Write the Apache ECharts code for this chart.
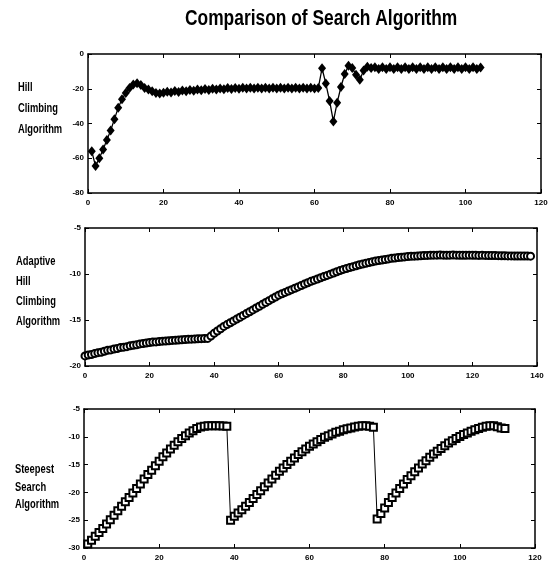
<!DOCTYPE html>
<html>
<head>
<meta charset="utf-8">
<script src="https://cdn.jsdelivr.net/npm/echarts@6/dist/echarts.min.js"></script>
<style>
  html, body { margin: 0; padding: 0; background: #fff; }
  #chart { width: 548px; height: 571px; }
</style>
</head>
<body>
<div id="chart"></div>
<script>
// Hill Climbing: iterations 1..104
const hillValues = [
  -56, -64.5, -60, -55, -49.5, -44, -37.5, -31, -26, -22.5,
  -19.5, -17.5, -16.8, -17.8, -19.5, -20.5, -21.5, -22.5, -22.8, -22.3,
  -21.7, -22.2, -21.3, -21.8, -21, -21.5, -20.7, -21.2, -20.4, -20.9,
  -20.2, -20.7, -20, -20.5, -19.8, -20.3, -19.6, -20.1, -19.5, -20,
  -19.4, -19.9, -19.4, -19.9, -19.4, -19.9, -19.4, -19.9, -19.4, -19.9,
  -19.4, -19.9, -19.4, -19.9, -19.4, -19.9, -19.4, -19.9, -19.4, -19.9,
  -19.6, -8.2, -17, -27, -38.8, -28, -19, -11.5, -6.8, -8,
  -12, -14.8, -9.5, -7.3, -8, -7.6, -8.6, -7.6, -8.6, -7.6,
  -8.6, -7.6, -8.6, -7.6, -8.6, -7.6, -8.6, -7.6, -8.6, -7.6,
  -8.6, -7.6, -8.6, -7.6, -8.6, -7.6, -8.6, -7.6, -8.6, -7.6,
  -8.6, -7.6, -8.6, -7.8
];

// Adaptive Hill Climbing: iterations 0..138
const adaptiveValues = [
  -18.9, -18.8, -18.75, -18.65, -18.55, -18.5, -18.4, -18.3, -18.25, -18.15,
  -18.1, -18, -17.95, -17.9, -17.8, -17.75, -17.7, -17.6, -17.55, -17.5,
  -17.45, -17.4, -17.38, -17.35, -17.3, -17.28, -17.25, -17.22, -17.2, -17.17,
  -17.15, -17.12, -17.1, -17.08, -17.06, -17.05, -17.03, -17.02, -17, -16.75,
  -16.45, -16.2, -15.95, -15.7, -15.5, -15.3, -15.1, -14.9, -14.7, -14.5,
  -14.3, -14.1, -13.9, -13.7, -13.5, -13.3, -13.1, -12.9, -12.7, -12.5,
  -12.3, -12.15, -12, -11.85, -11.7, -11.55, -11.4, -11.25, -11.1, -10.95,
  -10.8, -10.67, -10.54, -10.41, -10.28, -10.15, -10.02, -9.89, -9.76, -9.63,
  -9.5, -9.4, -9.3, -9.2, -9.1, -9, -8.92, -8.84, -8.76, -8.68,
  -8.6, -8.54, -8.48, -8.42, -8.36, -8.3, -8.26, -8.22, -8.18, -8.14,
  -8.1, -8.08, -8.06, -8.04, -8.02, -8, -7.98, -7.96, -7.95, -7.95,
  -7.94, -7.95, -7.96, -7.95, -7.94, -7.95, -7.96, -7.97, -7.96, -7.95,
  -7.96, -7.97, -7.98, -7.97, -7.98, -7.99, -8, -8, -8.01, -8.02,
  -8.02, -8.03, -8.03, -8.04, -8.04, -8.05, -8.05, -8.05, -8.06
];

// Steepest Search: iterations 1..112 (restarts after 38 and 77)
const steepestValues = [
  -29.3, -28.6, -27.9, -27.2, -26.5, -25.7, -24.9, -24.1, -23.3, -22.5,
  -21.7, -20.9, -20.1, -19.3, -18.5, -17.6, -16.8, -16, -15.2, -14.4,
  -13.6, -12.9, -12.2, -11.5, -10.9, -10.3, -9.8, -9.3, -8.9, -8.5,
  -8.25, -8.1, -8, -8, -8, -8, -8.05, -8.1,
  -25, -24.3, -23.7, -23.1, -22.5, -21.8, -21.1, -20.4, -19.7, -19,
  -18.3, -17.6, -16.9, -16.2, -15.6, -15, -14.4, -13.8, -13.2, -12.7,
  -12.2, -11.7, -11.3, -10.9, -10.5, -10.1, -9.8, -9.5, -9.2, -9,
  -8.75, -8.55, -8.4, -8.25, -8.1, -8, -8, -8.1, -8.3,
  -24.8, -23.8, -22.8, -21.8, -20.9, -20.1, -19.3, -18.5, -17.7, -17,
  -16.3, -15.6, -14.9, -14.3, -13.7, -13.1, -12.6, -12.1, -11.6, -11.1,
  -10.7, -10.3, -9.95, -9.6, -9.3, -9, -8.75, -8.5, -8.3, -8.1,
  -8, -8, -8.2, -8.4, -8.5
];

const hillXTicks = { min: 0, max: 120, interval: 20 };
const adaptiveXTicks = { min: 0, max: 140, interval: 20 };
const steepestXTicks = { min: 0, max: 120, interval: 20 };
const hillYTicks = { min: -80, max: 0, interval: 20 };
const adaptiveYTicks = { min: -20, max: -5, interval: 5 };
const steepestYTicks = { min: -30, max: -5, interval: 5 };

const hillData = hillValues.map((v, i) => [i + 1, v]);
const adaptiveData = adaptiveValues.map((v, i) => [i, v]);
const steepestData = steepestValues.map((v, i) => [i + 1, v]);

const labelFont = {
  color: '#000',
  fontSize: 8,
  fontWeight: 'bold',
  fontFamily: '"Liberation Sans", sans-serif',
};
const lineStyle = { color: '#000', width: 1.5 };
const tick = { show: true, inside: true, length: 4, lineStyle: { color: '#000' } };

function mainX(idx, ticks) {
  return {
    type: 'value', gridIndex: idx, position: 'bottom', ...ticks,
    axisLine: { show: true, onZero: false, lineStyle },
    axisTick: tick,
    axisLabel: { ...labelFont, margin: 6 },
    splitLine: { show: false },
  };
}
function boxX(idx, ticks) {
  return {
    type: 'value', gridIndex: idx, position: 'top', ...ticks,
    axisLine: { show: true, onZero: false, lineStyle },
    axisTick: tick,
    axisLabel: { show: false },
    splitLine: { show: false },
  };
}
function mainY(idx, ticks) {
  return {
    type: 'value', gridIndex: idx, position: 'left', ...ticks,
    axisLine: { show: true, onZero: false, lineStyle },
    axisTick: tick,
    axisLabel: { ...labelFont, margin: 4 },
    splitLine: { show: false },
  };
}
function boxY(idx, ticks) {
  return {
    type: 'value', gridIndex: idx, position: 'right', ...ticks,
    axisLine: { show: true, onZero: false, lineStyle },
    axisTick: tick,
    axisLabel: { show: false },
    splitLine: { show: false },
  };
}

// condensed bold text, squeezed horizontally to look like the narrow font in the scan
function sideLabel(lines, x, y, gap) {
  return lines.map((t, i) => ({
    type: 'text',
    x: x, y: y + i * gap,
    scaleX: 0.72,
    style: {
      text: t, fill: '#000',
      font: 'bold 13px "Liberation Sans", sans-serif',
    },
  }));
}

const chart = echarts.init(document.getElementById('chart'));
chart.setOption({
  animation: false,
  backgroundColor: '#fff',
  grid: [
    { left: 88, top: 54, width: 453, height: 139, outerBoundsMode: 'none' },
    { left: 85, top: 228, width: 452, height: 138, outerBoundsMode: 'none' },
    { left: 84, top: 409, width: 451, height: 139, outerBoundsMode: 'none' },
  ],
  xAxis: [
    mainX(0, hillXTicks), mainX(1, adaptiveXTicks), mainX(2, steepestXTicks),
    boxX(0, hillXTicks), boxX(1, adaptiveXTicks), boxX(2, steepestXTicks),
  ],
  yAxis: [
    mainY(0, hillYTicks), mainY(1, adaptiveYTicks), mainY(2, steepestYTicks),
    boxY(0, hillYTicks), boxY(1, adaptiveYTicks), boxY(2, steepestYTicks),
  ],
  graphic: [
    {
      type: 'text', x: 185, y: 8, scaleX: 0.79,
      style: {
        text: 'Comparison of Search Algorithm', fill: '#000',
        font: 'bold 22px "Liberation Sans", sans-serif',
      },
    },
    ...sideLabel(['Hill', 'Climbing', 'Algorithm'], 18, 81, 21),
    ...sideLabel(['Adaptive', 'Hill', 'Climbing', 'Algorithm'], 16, 255, 20),
    ...sideLabel(['Steepest', 'Search', 'Algorithm'], 15, 463, 17.5),
  ],
  series: [
    {
      type: 'line', xAxisIndex: 0, yAxisIndex: 0, data: hillData,
      symbol: 'diamond', symbolSize: [8, 10],
      itemStyle: { color: '#000' },
      lineStyle: { color: '#000', width: 1.3 },
    },
    {
      type: 'line', xAxisIndex: 1, yAxisIndex: 1, data: adaptiveData,
      symbol: 'emptyCircle', symbolSize: 7,
      itemStyle: { color: '#000', borderWidth: 1.8 },
      lineStyle: { color: '#000', width: 1.2 },
    },
    {
      type: 'line', xAxisIndex: 2, yAxisIndex: 2, data: steepestData,
      symbol: 'emptyRect', symbolSize: 7,
      itemStyle: { color: '#000', borderWidth: 1.4 },
      lineStyle: { color: '#000', width: 1 },
    },
  ],
});
</script>
</body>
</html>
